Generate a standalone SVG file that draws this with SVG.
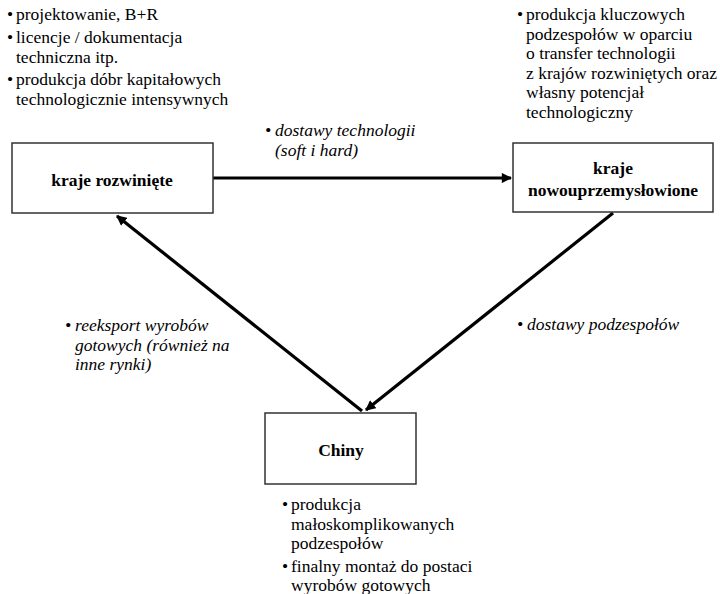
<svg xmlns="http://www.w3.org/2000/svg" width="720" height="594" viewBox="0 0 720 594">
<defs>
<style>
text{font-family:'Liberation Serif','Times New Roman',serif;font-size:17.5px;fill:#000}
.i{font-style:italic}
.b{font-weight:bold}
.box{fill:#fff;stroke:#333;stroke-width:1.5}
.arr{stroke:#000;stroke-width:3.2;fill:none}
</style>
<marker id="ah" viewBox="0 0 10 10" refX="9" refY="5" markerWidth="3.4" markerHeight="3.2" orient="auto" markerUnits="strokeWidth">
<path d="M0,0 L10,5 L0,10 z" fill="#000"/>
</marker>
</defs>
<rect width="720" height="594" fill="#fff"/>
<g id="connectors">
<line class="arr" x1="213" y1="178" x2="511" y2="178" marker-end="url(#ah)"/>
<line class="arr" x1="613" y1="213" x2="366" y2="410" marker-end="url(#ah)"/>
<line class="arr" x1="362" y1="411" x2="117" y2="216" marker-end="url(#ah)"/>
</g>
<g id="node-rozwiniete">
<rect class="box" x="12" y="143" width="201" height="70"/>
<text class="b" x="112" y="186" text-anchor="middle">kraje rozwinięte</text>
</g>
<g id="node-nowoprzem">
<rect class="box" x="513" y="143" width="200" height="69"/>
<text class="b" x="613" y="174" text-anchor="middle">kraje</text>
<text class="b" x="613" y="196" text-anchor="middle">nowouprzemysłowione</text>
</g>
<g id="node-chiny">
<rect class="box" x="265" y="413" width="151" height="71"/>
<text class="b" x="341" y="456" text-anchor="middle">Chiny</text>
</g>
<g id="text-topleft">
<text x="7" y="20">•</text><text x="16" y="20">projektowanie, B+R</text>
<text x="7" y="43">•</text><text x="16" y="43">licencje / dokumentacja</text>
<text x="16" y="62.5">techniczna itp.</text>
<text x="7" y="85">•</text><text x="16" y="85">produkcja dóbr kapitałowych</text>
<text x="16" y="104.5">technologicznie intensywnych</text>
</g>
<g id="text-topright">
<text x="517" y="20">•</text><text x="526" y="20">produkcja kluczowych</text>
<text x="526" y="39.5">podzespołów w oparciu</text>
<text x="526" y="59">o transfer technologii</text>
<text x="526" y="78.5">z krajów rozwiniętych oraz</text>
<text x="526" y="98">własny potencjał</text>
<text x="526" y="117.5">technologiczny</text>
</g>
<g id="label-dostawy-tech">
<text class="i" x="265" y="136">•</text><text class="i" x="275" y="136">dostawy technologii</text>
<text class="i" x="275" y="156">(soft i hard)</text>
</g>
<g id="label-reeksport">
<text class="i" x="65" y="331">•</text><text class="i" x="75" y="331">reeksport wyrobów</text>
<text class="i" x="75" y="350.5">gotowych (również na</text>
<text class="i" x="75" y="370">inne rynki)</text>
</g>
<g id="label-podzespoly">
<text class="i" x="517" y="330">•</text><text class="i" x="527" y="330">dostawy podzespołów</text>
</g>
<g id="text-chiny">
<text x="282" y="510">•</text><text x="291" y="510">produkcja</text>
<text x="291" y="529.5">małoskomplikowanych</text>
<text x="291" y="549">podzespołów</text>
<text x="282" y="572">•</text><text x="291" y="572">finalny montaż do postaci</text>
<text x="291" y="591">wyrobów gotowych</text>
</g>
</svg>
